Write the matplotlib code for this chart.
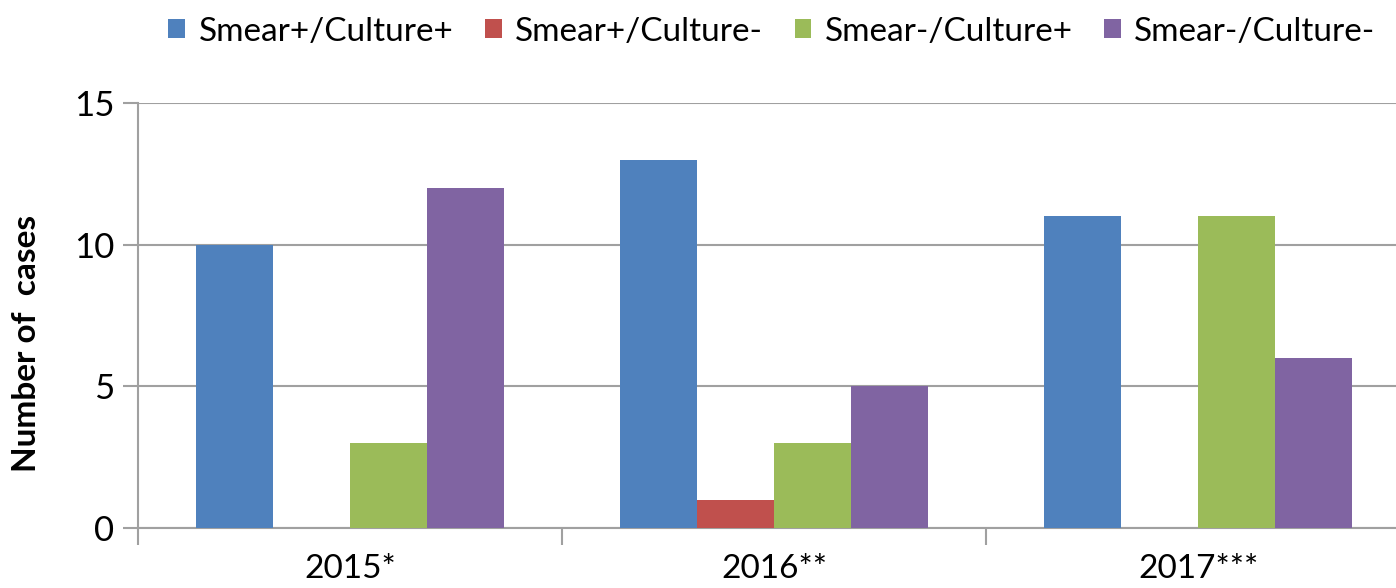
import matplotlib
matplotlib.use('Agg')
import matplotlib.pyplot as plt
import numpy as np

plt.rcParams['font.family'] = ['Lato', 'DejaVu Sans']

years = ['2015*', '2016**', '2017***']
series_names = ['Smear+/Culture+', 'Smear+/Culture-', 'Smear-/Culture+', 'Smear-/Culture-']
smear_pos_cult_pos = [10, 13, 11]
smear_pos_cult_neg = [0, 1, 0]
smear_neg_cult_pos = [3, 3, 11]
smear_neg_cult_neg = [12, 5, 6]
colors = ['#4F81BD', '#C0504D', '#9BBB59', '#8064A2']

fig = plt.figure(figsize=(13.96, 5.88), dpi=100)
ax = fig.add_axes([138 / 1396, 60 / 588, 1258 / 1396, 425 / 588])

x = np.arange(len(years))
width = 0.1816
all_series = [smear_pos_cult_pos, smear_pos_cult_neg, smear_neg_cult_pos, smear_neg_cult_neg]
for i, (vals, name, c) in enumerate(zip(all_series, series_names, colors)):
    ax.bar(x + (i - 1.5) * width, vals, width, color=c, label=name, zorder=3)

ax.set_yticks([0, 5, 10, 15])
ax.yaxis.grid(True, color='#A0A0A0', linewidth=1.5, zorder=0)

ax.set_xticks(x)
ax.set_xticklabels(years, fontsize=24)
ax.set_xticks([-0.5, 0.5, 1.5, 2.5], minor=True)
# limits after ticks, otherwise set_xticks widens the view
ax.set_ylim(0, 15)
ax.set_xlim(-0.5, -0.5 + 1258 / 424)
ax.tick_params(axis='x', which='major', length=0, pad=19)
ax.tick_params(axis='x', which='minor', length=12, width=1.5, color='#A0A0A0')
ax.tick_params(axis='y', length=11, width=1.5, color='#A0A0A0', labelsize=25, pad=6)

for s in ['top', 'right']:
    ax.spines[s].set_visible(False)
for s in ['left', 'bottom']:
    ax.spines[s].set_color('#A0A0A0')
    ax.spines[s].set_linewidth(1.5)

ax.set_ylabel('Number of  cases', fontsize=24, fontweight='bold')
ax.yaxis.set_label_coords(-0.077, 0.435)

fig.legend(loc='center', bbox_to_anchor=(0.553, 0.946), ncol=4, frameon=False,
           fontsize=24, handlelength=0.5, handleheight=0.5, handletextpad=0.4,
           columnspacing=0.95)

fig.savefig('out.png', dpi=100)
